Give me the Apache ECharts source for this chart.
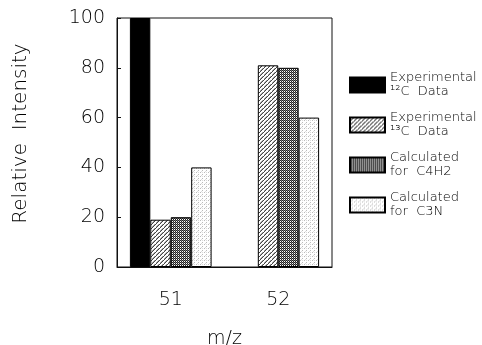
<!DOCTYPE html>
<html>
<head>
<meta charset="utf-8">
<script src="https://cdn.jsdelivr.net/npm/echarts@6/dist/echarts.min.js"></script>
<style>
  html, body { margin: 0; padding: 0; background: #fff; }
  #chart { width: 482px; height: 345px; }
</style>
</head>
<body>
<div id="chart"></div>
<script>
// data
const categories = ['51', '52'];
const exp12C = [100, null];
const exp13C = [19, 81];
const calcC4H2 = [20, 80];
const calcC3N = [40, 60];
const yTicks = [0, 20, 40, 60, 80, 100];

// little canvas patterns for the bar fills
function makePattern(size, draw) {
  const c = document.createElement('canvas');
  c.width = size; c.height = size;
  const ctx = c.getContext('2d');
  ctx.fillStyle = '#fff';
  ctx.fillRect(0, 0, size, size);
  draw(ctx);
  return { image: c, repeat: 'repeat' };
}

const hatch = makePattern(4, ctx => {
  ctx.fillStyle = '#444';
  for (let i = 0; i < 4; i++) ctx.fillRect(3 - i, i, 1, 1);
  ctx.fillStyle = '#aaa';
  for (let i = 0; i < 3; i++) ctx.fillRect(2 - i, i, 1, 1);
});
const cross = makePattern(2, ctx => {
  ctx.fillStyle = '#222';
  ctx.fillRect(0, 0, 1, 1);
  ctx.fillRect(1, 1, 1, 1);
  ctx.fillStyle = '#777';
  ctx.fillRect(1, 0, 1, 1);
});
const dots = makePattern(4, ctx => {
  ctx.fillStyle = '#bbb';
  ctx.fillRect(0, 0, 1, 1);
  ctx.fillRect(2, 2, 1, 1);
  ctx.fillStyle = '#ddd';
  ctx.fillRect(2, 0, 1, 1);
  ctx.fillRect(1, 3, 1, 1);
});

const font = 'DejaVu Sans';
const thin = 200;
const chart = echarts.init(document.getElementById('chart'));

function bar(name, data, fill) {
  return {
    name: name,
    type: 'bar',
    data: data,
    barGap: '0%',
    barCategoryGap: '24%',
    itemStyle: { color: fill, borderColor: '#000', borderWidth: 1 }
  };
}

const option = {
  animation: false,
  backgroundColor: '#fff',
  textStyle: { fontFamily: font },
  grid: {
    left: 117, right: 150, top: 18, bottom: 78,
    outerBoundsMode: 'none',
    containLabel: false,
    show: true, borderColor: '#111', borderWidth: 1
  },
  legend: {
    orient: 'vertical',
    left: 344, top: 66,
    icon: 'rect',
    itemWidth: 35, itemHeight: 15,
    itemGap: 12,
    textStyle: { fontFamily: font, fontWeight: thin, fontSize: 13, lineHeight: 14, color: '#000' },
    data: [
      'Experimental\n\u00b9\u00b2C  Data',
      'Experimental\n\u00b9\u00b3C  Data',
      'Calculated\nfor  C4H2',
      'Calculated\nfor  C3N'
    ]
  },
  xAxis: {
    type: 'category',
    data: categories,
    name: 'm/z',
    nameLocation: 'middle',
    nameGap: 63,
    nameTextStyle: { fontSize: 19, color: '#000', fontWeight: thin, fontFamily: font },
    axisLine: { show: true, lineStyle: { color: '#111' } },
    axisTick: { show: false },
    axisLabel: { fontSize: 19, color: '#000', fontWeight: thin, margin: 24, fontFamily: font }
  },
  yAxis: {
    type: 'value',
    min: yTicks[0], max: yTicks[yTicks.length - 1], interval: 20,
    name: 'Relative  Intensity',
    nameLocation: 'middle',
    nameGap: 86,
    nameTextStyle: { fontSize: 20, color: '#000', fontWeight: thin, fontFamily: font, padding: [0, 0, 0, 18] },
    axisLine: { show: true, lineStyle: { color: '#111' } },
    axisTick: { show: true, inside: true, length: 4, lineStyle: { color: '#111' } },
    splitLine: { show: false },
    axisLabel: { fontSize: 19, color: '#000', fontWeight: thin, margin: 12, padding: [10, 0, 0, 0], fontFamily: font }
  },
  series: [
    bar('Experimental\n\u00b9\u00b2C  Data', exp12C, '#000'),
    bar('Experimental\n\u00b9\u00b3C  Data', exp13C, hatch),
    bar('Calculated\nfor  C4H2', calcC4H2, cross),
    bar('Calculated\nfor  C3N', calcC3N, dots)
  ]
};

chart.setOption(option);
</script>
</body>
</html>
